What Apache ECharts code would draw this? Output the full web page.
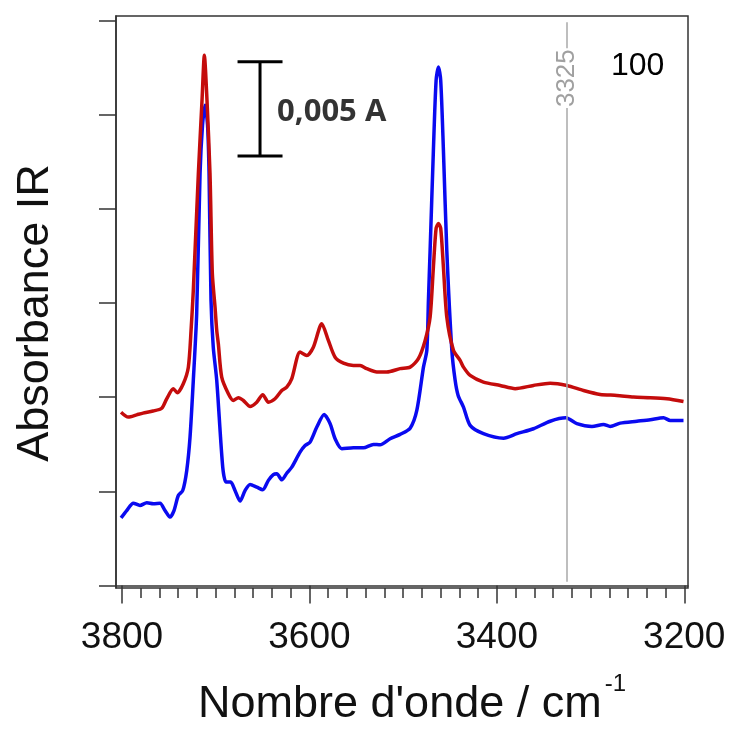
<!DOCTYPE html>
<html>
<head>
<meta charset="utf-8">
<script src="https://cdn.jsdelivr.net/npm/echarts@6/dist/echarts.min.js"></script>
<style>html,body{margin:0;padding:0;background:#fff}#c{width:731px;height:729px}</style>
</head>
<body>
<div id="c"></div>
<script>
// Wavenumber (cm-1), absorbance (A) — red spectrum (upper)
const redSpectrum = [
  [3801,0.00920],[3793.3,0.00894],[3784.3,0.00906],[3777.6,0.00915],[3766.9,0.00926],[3757.6,0.00941],
  [3752.3,0.00991],[3745.2,0.01044],[3741,0.01023],[3734.6,0.01071],[3729.2,0.01159],[3726.3,0.01354],
  [3723.9,0.01566],[3718.5,0.02188],[3714.6,0.02575],[3712.1,0.02814],[3709.3,0.02575],[3706.1,0.02188],
  [3703.6,0.01657],[3700.7,0.01476],[3698.9,0.01354],[3697.2,0.01283],[3693.6,0.01106],[3686.5,0.01018],
  [3681.2,0.00982],[3675.8,0.00997],[3670.5,0.00982],[3663.3,0.00950],[3656.2,0.00973],[3649.8,0.01013],
  [3643.8,0.00973],[3636.7,0.00991],[3629.5,0.01035],[3624.2,0.01053],[3618.8,0.01098],[3610,0.01239],
  [3602.8,0.01221],[3595.8,0.01265],[3586.8,0.01390],[3579.8,0.01301],[3572.6,0.01212],[3563.7,0.01180],
  [3553.1,0.01168],[3545.9,0.01168],[3538.8,0.01151],[3528.1,0.01133],[3517.4,0.01133],[3503.2,0.01151],
  [3492.5,0.01159],[3483.7,0.01204],[3476.5,0.01301],[3471.2,0.01425],[3467.7,0.01690],[3464.8,0.01896],
  [3462.3,0.01921],[3459.9,0.01896],[3457,0.01690],[3453.4,0.01425],[3446.3,0.01248],[3439.2,0.01195],
  [3435.6,0.01159],[3428.5,0.01115],[3414.3,0.01080],[3396.4,0.01062],[3380.4,0.01045],[3360.9,0.01062],
  [3343.1,0.01074],[3325.2,0.01062],[3307.5,0.01035],[3289.7,0.01014],[3271.9,0.01009],[3254.1,0.01000],
  [3236.3,0.00997],[3218.5,0.00991],[3200.8,0.00977]
];
// Blue spectrum (lower)
const blueSpectrum = [
  [3801,0.00359],[3795,0.00398],[3787.9,0.00437],[3780.8,0.00425],[3773.6,0.00439],[3766.6,0.00434],
  [3759.4,0.00437],[3754.1,0.00398],[3748.8,0.00363],[3744.5,0.00398],[3739.9,0.00478],[3735.2,0.00504],
  [3730.9,0.00611],[3727.4,0.00787],[3723.9,0.01089],[3720.3,0.01444],[3716.7,0.02188],[3714.1,0.02443],
  [3711.4,0.02549],[3708.7,0.02443],[3707.1,0.02188],[3705,0.01513],[3702.6,0.01265],[3698.9,0.01089],
  [3692.5,0.00628],[3689,0.00549],[3684,0.00549],[3679.4,0.00504],[3674,0.00448],[3668.7,0.00504],
  [3663.3,0.00536],[3656.2,0.00522],[3649.8,0.00508],[3643.8,0.00558],[3638.5,0.00589],[3634.8,0.00593],
  [3629.5,0.00561],[3624.2,0.00596],[3618.8,0.00628],[3610,0.00708],[3604.6,0.00743],[3599.3,0.00761],
  [3592.1,0.00841],[3584.3,0.00908],[3577.9,0.00859],[3572.6,0.00779],[3565.4,0.00726],[3553.1,0.00731],
  [3542.4,0.00731],[3531.7,0.00749],[3524.6,0.00747],[3513.9,0.00779],[3503.2,0.00802],[3492.5,0.00835],
  [3485.4,0.00929],[3478.3,0.01159],[3474.7,0.01248],[3473,0.01513],[3471.2,0.01779],[3467.7,0.02310],
  [3464.8,0.02682],[3462.3,0.02752],[3459.9,0.02682],[3457,0.02310],[3453.4,0.01779],[3448,0.01248],
  [3444.5,0.01089],[3441.3,0.01009],[3435.6,0.00947],[3428.5,0.00850],[3414.3,0.00806],[3392.9,0.00782],
  [3378.6,0.00806],[3360.9,0.00832],[3343.1,0.00872],[3326.3,0.00890],[3314.6,0.00859],[3298.5,0.00844],
  [3286.2,0.00855],[3279,0.00844],[3268.3,0.00862],[3250.5,0.00872],[3236.3,0.00880],[3222.1,0.00890],
  [3215,0.00876],[3200.8,0.00876]
];
const xMajorTicks = [3800, 3600, 3400, 3200];
const xMinorTicks = [3780,3760,3740,3720,3700,3680,3660,3640,3620,3580,3560,3540,3520,3500,3480,3460,3440,3420,3380,3360,3340,3320,3300,3280,3260,3240,3220];
const yTicks = [0, 0.005, 0.010, 0.015, 0.020, 0.025, 0.030];
// Scale bar: 0.005 A
const scaleBarX = 3652.7, scaleBarCapHalf = 24, scaleBarBottom = 0.0228, scaleBarTop = 0.0278;
const scaleBarLabel = '0,005 A';
const scaleBarLabelPos = [3634.5, 0.02513];
const markerWavenumber = 3325;
const sampleLabel = '100';

const chart = echarts.init(document.getElementById('c'), null, {renderer: 'canvas'});
const FONT = 'Liberation Sans, Arial, sans-serif';
const axisColor = '#333';

const option = {
  animation: false,
  backgroundColor: '#fff',
  title: {
    text: sampleLabel, left: 611, top: 50, padding: 0,
    textStyle: {fontFamily: FONT, fontSize: 32, fontWeight: 'normal', color: '#000'}
  },
  grid: {left: 116, right: 43, top: 16, bottom: 141, show: true, borderColor: axisColor, borderWidth: 1.5,
    containLabel: false, outerBoundsMode: 'none'},
  xAxis: [
    {
      type: 'value', inverse: true, min: 3196, max: 3806.4, position: 'bottom',
      axisLine: {show: true, lineStyle: {color: axisColor, width: 1.5}},
      axisTick: {show: true, customValues: xMajorTicks, length: 18, lineStyle: {color: axisColor, width: 1.5}},
      axisLabel: {show: true, customValues: xMajorTicks, fontSize: 37, margin: 31, color: '#111', fontFamily: FONT,
        hideOverlap: false, showMinLabel: true, showMaxLabel: true, formatter: v => String(v)},
      splitLine: {show: false},
      name: "{a|Nombre d'onde / cm}{s|-1}",
      nameLocation: 'middle', nameGap: 84,
      nameTextStyle: {
        padding: [0, 0, 0, 20],
        rich: {
          a: {fontSize: 45, lineHeight: 66, fontFamily: FONT, color: '#111'},
          s: {fontSize: 24, lineHeight: 24, verticalAlign: 'top', fontFamily: FONT, color: '#111', padding: [0, 0, 0, 3]}
        }
      }
    },
    {
      type: 'value', inverse: true, min: 3196, max: 3806.4, position: 'bottom',
      axisLine: {show: false},
      axisTick: {show: true, customValues: xMinorTicks, length: 10, lineStyle: {color: axisColor, width: 1.5}},
      axisLabel: {show: false},
      splitLine: {show: false}
    }
  ],
  yAxis: {
    type: 'value', min: -0.000133, max: 0.03023,
    axisLine: {show: true, lineStyle: {color: axisColor, width: 1.5}},
    axisTick: {show: true, customValues: yTicks, length: 17, lineStyle: {color: axisColor, width: 1.5}},
    axisLabel: {show: false},
    splitLine: {show: false},
    name: 'Absorbance IR', nameLocation: 'middle', nameGap: 58,
    nameTextStyle: {fontSize: 45, fontFamily: FONT, color: '#111', padding: [0, 22, 0, 0]}
  },
  series: [
    {
      type: 'line', name: 'marker', data: [], silent: true, z: 1,
      markLine: {
        silent: true, symbol: ['none', 'none'], animation: false,
        lineStyle: {color: '#a8a8a8', width: 1.5, type: 'solid'},
        label: {show: true, formatter: String(markerWavenumber), position: 'insideEnd', distance: 26,
          fontSize: 26, fontFamily: FONT, color: '#a0a0a0', backgroundColor: '#fff', padding: [0, 1]},
        data: [[{coord: [markerWavenumber, 0.0002]}, {coord: [markerWavenumber, 0.0299]}]]
      }
    },
    {
      type: 'line', name: 'blue', data: blueSpectrum, showSymbol: false, smooth: 0.25, z: 3,
      lineStyle: {color: '#0a0af0', width: 3.5}, itemStyle: {color: '#0a0af0'}
    },
    {
      type: 'line', name: 'red', data: redSpectrum, showSymbol: false, smooth: 0.25, z: 4,
      lineStyle: {color: '#c40c0c', width: 3.5}, itemStyle: {color: '#c40c0c'}
    },
    {
      type: 'line', data: [[scaleBarX, scaleBarBottom], [scaleBarX, scaleBarTop]], showSymbol: false, silent: true, z: 5,
      lineStyle: {color: '#000', width: 3}
    },
    {
      type: 'line', data: [[scaleBarX + scaleBarCapHalf, scaleBarTop], [scaleBarX - scaleBarCapHalf, scaleBarTop]], showSymbol: false, silent: true, z: 5,
      lineStyle: {color: '#000', width: 3}
    },
    {
      type: 'line', data: [[scaleBarX + scaleBarCapHalf, scaleBarBottom], [scaleBarX - scaleBarCapHalf, scaleBarBottom]], showSymbol: false, silent: true, z: 5,
      lineStyle: {color: '#000', width: 3}
    },
    {
      type: 'scatter', data: [scaleBarLabelPos], symbolSize: 0, silent: true, z: 6,
      label: {show: true, position: 'right', distance: 0, formatter: scaleBarLabel,
        fontFamily: 'Open Sans, sans-serif', fontWeight: 'bold', fontSize: 31, color: '#000'}
    }
  ]
};
chart.setOption(option);
</script>
</body>
</html>
